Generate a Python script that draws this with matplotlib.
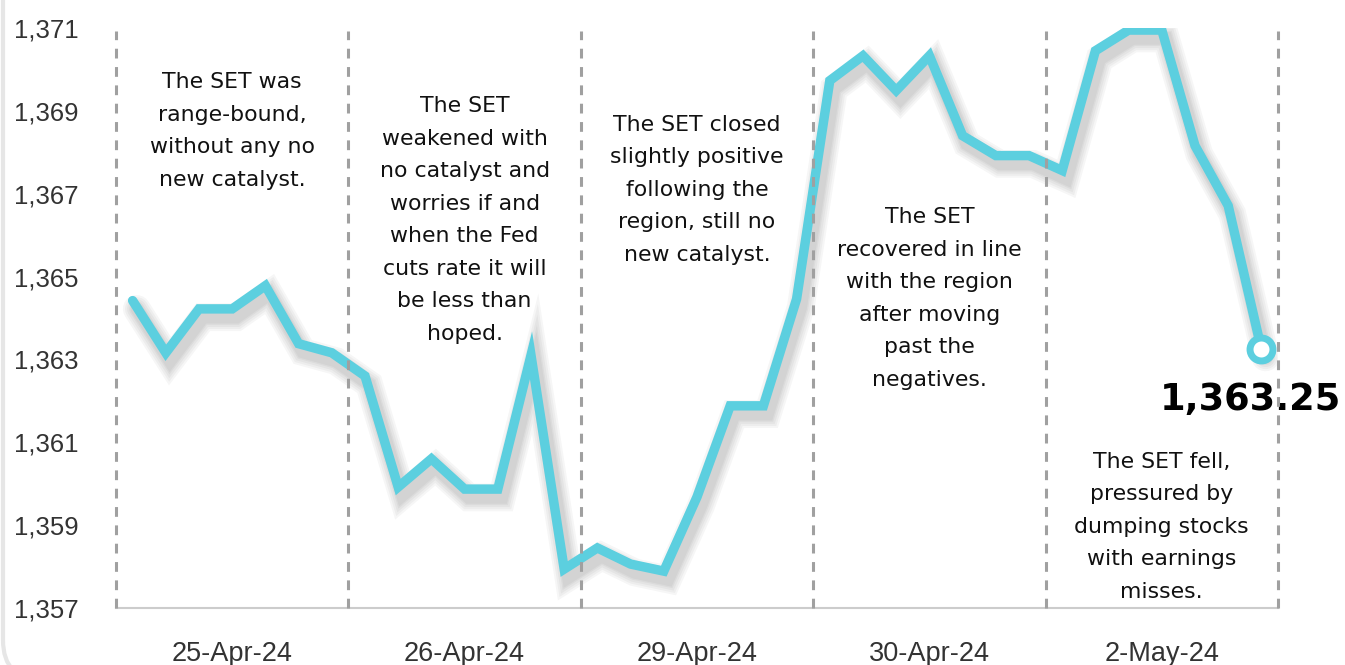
import matplotlib
matplotlib.use('Agg')
import matplotlib.pyplot as plt
import matplotlib.patheffects as pe
from matplotlib.patches import FancyBboxPatch

# SET index, 7 intraday points per trading day
set_values = [1364.42, 1363.16, 1364.22, 1364.22, 1364.78, 1363.38, 1363.16,
              1362.60, 1359.92, 1360.60, 1359.87, 1359.87, 1363.10, 1357.94,
              1358.45, 1358.06, 1357.89, 1359.68, 1361.88, 1361.88, 1364.46,
              1369.73, 1370.33, 1369.49, 1370.33, 1368.40, 1367.92, 1367.92,
              1367.56, 1370.45, 1370.95, 1370.95, 1368.16, 1366.71, 1363.25]
day_labels = ['25-Apr-24', '26-Apr-24', '29-Apr-24', '30-Apr-24', '2-May-24']
points_per_day = 7
y_ticks = [1357, 1359, 1361, 1363, 1365, 1367, 1369, 1371]
notes = [
    "The SET was\nrange-bound,\nwithout any no\nnew catalyst.",
    "The SET\nweakened with\nno catalyst and\nworries if and\nwhen the Fed\ncuts rate it will\nbe less than\nhoped.",
    "The SET closed\nslightly positive\nfollowing the\nregion, still no\nnew catalyst.",
    "The SET\nrecovered in line\nwith the region\nafter moving\npast the\nnegatives.",
    "The SET fell,\npressured by\ndumping stocks\nwith earnings\nmisses.",
]
note_tops = [1369.93, 1369.35, 1368.91, 1366.67, 1360.77]
last_label = '1,363.25'

LINE = '#5ccfdf'
TXT = '#111111'
AXFONT = 'Liberation Sans'

fig = plt.figure(figsize=(13.45, 6.65), dpi=100)
fig.patch.set_facecolor('white')

# faint card edge on the left
card = FancyBboxPatch((3, -15), 1500, 800, boxstyle='round,pad=0,rounding_size=40',
                      transform=None, facecolor='none', edgecolor='#e6e6e6', lw=3)
fig.patches.append(card)

ax = fig.add_axes([116 / 1345, 1 - 608 / 665, (1278 - 116) / 1345, (608 - 28) / 665])
ax.set_facecolor('none')

x = list(range(len(set_values)))
n_days = len(day_labels)

shadow = [pe.SimpleLineShadow(offset=(3, -6), shadow_color='k', alpha=0.035, linewidth=w)
          for w in (20, 17, 14, 11, 9)]
ax.plot(x, set_values, color=LINE, lw=6.8, solid_joinstyle='miter', solid_capstyle='round',
        path_effects=shadow + [pe.Normal()], zorder=3)
ax.plot(x[-1], set_values[-1], 'o', ms=16.5, mfc='white', mec=LINE, mew=5, zorder=4)

# day separators
for d in range(n_days + 1):
    ax.axvline(d * points_per_day - 0.5, ymax=0.995, color='#a0a0a0', lw=2.2,
               ls=(0, (3.2, 2.8)), clip_on=False, zorder=5)

ax.set_xlim(-0.5, n_days * points_per_day - 0.5)
ax.set_ylim(1357, 1371)

ax.set_xticks([d * points_per_day + (points_per_day - 1) / 2 for d in range(n_days)])
ax.set_xticklabels(day_labels, fontfamily=AXFONT)
ax.set_yticks(y_ticks)
ax.set_yticklabels([f'{v:,}' for v in y_ticks], fontfamily=AXFONT)
ax.tick_params(axis='x', length=0, pad=24, labelsize=19.5, labelcolor='#333333')
ax.tick_params(axis='y', length=0, pad=27, labelsize=18.5, labelcolor='#333333')

for s in ('top', 'right', 'left'):
    ax.spines[s].set_visible(False)
ax.spines['bottom'].set_color('#cccccc')
ax.spines['bottom'].set_linewidth(1.5)

for d, (txt, top) in enumerate(zip(notes, note_tops)):
    ax.text(d * points_per_day + (points_per_day - 1) / 2, top, txt, ha='center', va='top',
            fontsize=15.8, color=TXT, linespacing=1.78, zorder=2)

ax.annotate(last_label, (x[-1], set_values[-1]), xytext=(-8, -23), textcoords='offset points',
            ha='center', va='top', fontsize=26.5, fontweight='heavy', color='black',
            annotation_clip=False, zorder=4)

fig.savefig('out.png', dpi=100)
